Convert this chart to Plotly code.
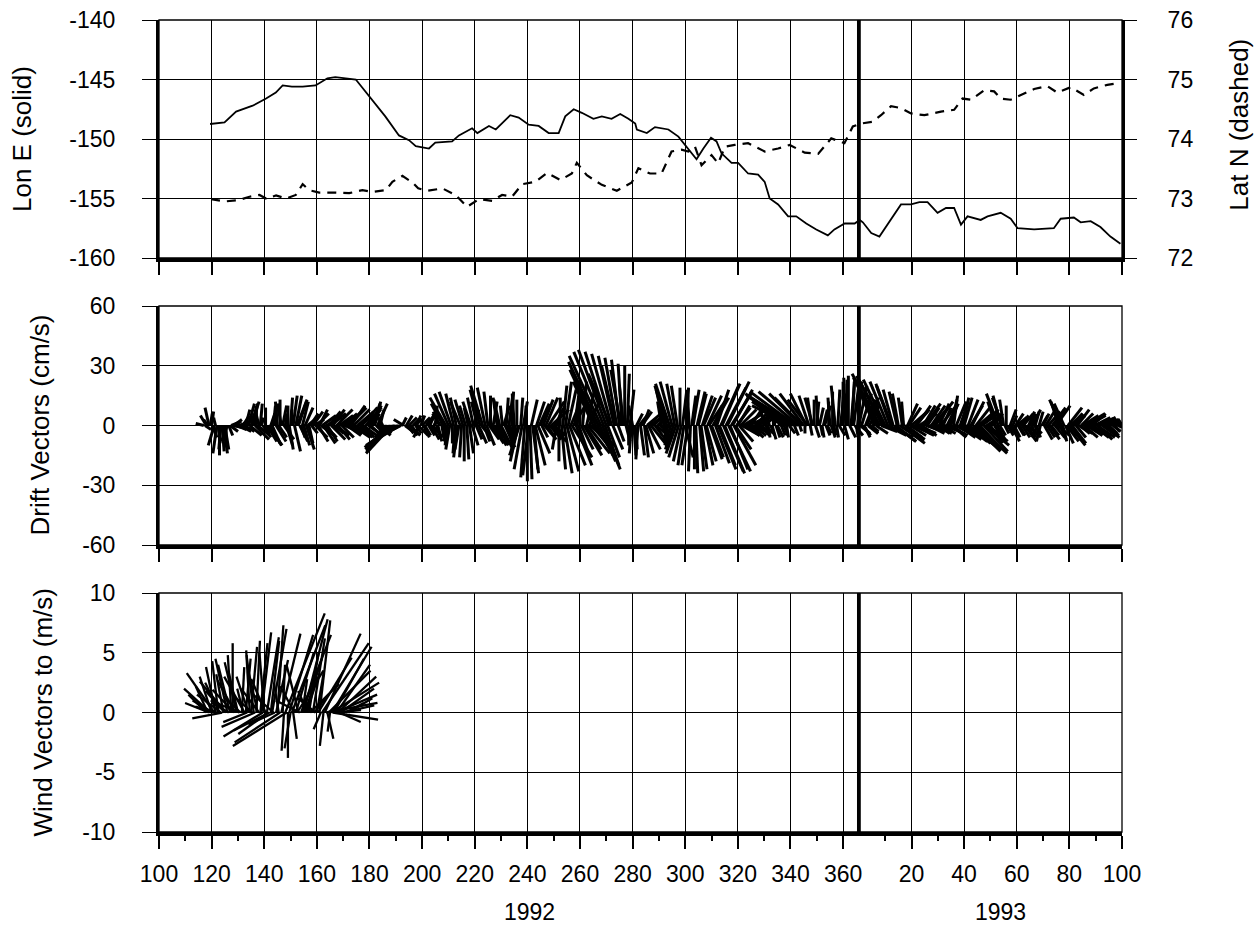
import plotly.graph_objects as go

# ---------------- data ----------------
# Top panel: longitude (solid, left axis) and latitude (dashed, right axis)
lon_day = [119.4, 124.9, 129.3, 135.6, 140.7, 144.4, 147.0, 150.5, 154.6, 159.5,
           164.0, 167.0, 174.8, 179.9, 186.0, 191.2, 195.0, 197.6, 202.6, 205.0,
           211.4, 214.0, 219.0, 221.0, 225.4, 228.0, 233.5, 236.7, 240.5, 244.3,
           248.1, 251.9, 254.4, 257.6, 260.7, 265.1, 268.3, 272.0, 275.3, 278.4,
           281.0, 281.6, 285.4, 288.5, 293.6, 297.4, 301.2, 304.3, 306.9, 309.8,
           311.9, 313.8, 317.6, 320.1, 323.9, 327.7, 330.2, 332.1, 335.3, 339.1,
           342.2, 346.0, 349.8, 354.2, 356.7, 360.6, 364.4, 366.3, 367.5, 370.7,
           373.8, 378.2, 382.0, 385.8, 389.0, 392.1, 395.9, 399.1, 402.2, 404.8,
           407.3, 412.3, 414.9, 419.9, 423.7, 426.3, 432.6, 440.1, 442.7, 447.7,
           450.3, 454.1, 457.8, 461.6, 465.4]
lon_e = [-148.74, -148.6, -147.7, -147.2, -146.6, -146.1, -145.5, -145.6, -145.6, -145.5,
         -144.9, -144.8, -145.0, -146.4, -148.1, -149.7, -150.1, -150.6, -150.8, -150.3,
         -150.2, -149.7, -149.1, -149.5, -148.9, -149.2, -148.0, -148.2, -148.8, -148.9,
         -149.5, -149.5, -148.1, -147.5, -147.8, -148.3, -148.1, -148.3, -147.9, -148.3,
         -148.7, -149.2, -149.5, -149.0, -149.2, -149.8, -150.8, -151.7, -150.8, -149.9,
         -150.2, -151.2, -152.0, -152.0, -152.9, -153.0, -153.6, -155.0, -155.5, -156.5,
         -156.5, -157.1, -157.6, -158.1, -157.6, -157.1, -157.1, -156.8, -157.0, -157.9,
         -158.2, -156.7, -155.5, -155.5, -155.3, -155.3, -156.2, -155.8, -155.8, -157.2,
         -156.5, -156.8, -156.5, -156.2, -156.7, -157.5, -157.6, -157.5, -156.7, -156.6,
         -157.0, -156.9, -157.4, -158.2, -158.8]

lat_day = [119.8, 124.9, 130.0, 134.4, 138.2, 140.7, 144.5, 148.3, 152.0, 154.6,
           157.1, 160.9, 166.0, 172.3, 177.3, 181.1, 186.2, 188.7, 192.5, 196.3,
           198.5, 202.0, 207.7, 212.7, 217.1, 221.6, 226.6, 230.4, 234.2, 238.0,
           243.0, 247.5, 252.5, 256.9, 258.8, 262.6, 268.3, 274.0, 279.7, 282.2,
           286.6, 291.0, 294.8, 298.6, 301.2, 303.7, 306.2, 310.0, 312.5, 315.1,
           318.8, 323.9, 330.2, 335.3, 339.7, 345.4, 350.5, 355.5, 360.5, 363.7,
           366.8, 371.3, 374.4, 378.2, 382.0, 385.8, 390.9, 397.2, 402.2, 405.4,
           408.6, 413.6, 417.4, 419.9, 423.7, 427.5, 432.6, 437.6, 441.4, 446.5,
           451.5, 455.3, 460.4, 464.8]
lat_n = [72.99, 72.95, 72.97, 73.03, 73.06, 73.00, 73.05, 73.00, 73.06, 73.24,
         73.14, 73.10, 73.10, 73.09, 73.14, 73.11, 73.14, 73.28, 73.38, 73.27,
         73.17, 73.13, 73.17, 73.06, 72.86, 72.99, 72.96, 73.06, 73.03, 73.24,
         73.28, 73.43, 73.31, 73.42, 73.60, 73.39, 73.23, 73.13, 73.27, 73.51,
         73.42, 73.42, 73.79, 73.82, 73.79, 73.87, 73.56, 73.73, 73.59, 73.87,
         73.90, 73.93, 73.79, 73.84, 73.90, 73.77, 73.75, 74.01, 73.93, 74.21,
         74.26, 74.29, 74.40, 74.55, 74.52, 74.43, 74.40, 74.46, 74.49, 74.68,
         74.66, 74.82, 74.80, 74.68, 74.66, 74.74, 74.84, 74.89, 74.78, 74.87,
         74.74, 74.85, 74.91, 74.94]

# Middle panel: drift vectors (cm/s), readings at whole days 117..465 ...
drift_day = list(range(117, 466))
drift_u = [
    -4, -3, -2, 1, -3, -2, 0, 1, 2, -3,        # 117-126
    4, 5, 6, 5, 4, 3, 2, 3, 4, 2,              # 127-136
    0, -2, 1, 3, 5, 6, 4, 1, -1, 0,            # 137-146
    2, 1, 0, 1, 2, 3, 4, 2, 3, 4,              # 147-156
    2, 3, 5, 6, 4, 7, 6, 5, 8, 6,              # 157-166
    7, 6, 8, 7, 8, 9, 7, 8, 6, 9,              # 167-176
    8, 5, 7, 6, 4, 3, 5, 2, -2, -6,            # 177-186
    -9, -12, -14, -15, -13, -8, -5, 3, 4, 3,   # 187-196
    4, 2, -3, 4, 3, 5, 2, 5, 1, 2,             # 197-206
    -4, -6, -8, -7, -6, -4, -3, -2, -1, 0,     # 207-216
    1, 2, 3, 2, -3, -5, -6, -4, -2, 0,         # 217-226
    2, 4, 5, 6, 3, 1, 2, 1, -1, 0,             # 227-236
    -5, -4, -2, 0, 1, 3, 5, 6, 4, 5,           # 237-246
    6, 8, 9, 6, -2, 0, 2, 4, 6, 8,             # 247-256
    10, 2, 1, 0, 2, 8, 11, 12, -10, -13,       # 257-266
    -15, -16, -15, -14, -12, -10, -8, -6, -4, -2,  # 267-276
    0, 1, 2, -2, 1, -1, 2, 3, 4, 6,            # 277-286
    8, 5, 7, 3, -2, -4, -6, -7, -6, -4,        # 287-296
    -3, 0, 2, 4, -3, -1, 3, 1, 4, 3,           # 297-306
    6, 5, 8, 6, 4, 6, 8, 9, 10, 11,            # 307-316
    9, 10, 8, 6, 8, 10, 7, 9, 6, 8,            # 317-326
    5, 7, 4, 6, -3, -2, 2, 0, 3, 4,            # 327-336
    -6, -12, -18, -22, -24, -23, -20, -16, -12, -8,  # 337-346
    -5, -2, 0, 1, 2, 1, 3, 2, -1, 0,           # 347-356
    -2, 1, 2, 0, -1, 0, 2, 3, 1, 4,            # 357-366
    5, 3, 6, 5, 3, -8, -12, -14, -13, -11,     # 367-376
    -9, -7, -5, 10, -3, 12, -1, 8, 6, 8,       # 377-386
    10, 7, 9, 5, 8, 6, 10, 7, 9, 6,            # 387-396
    8, 4, 7, 5, 3, 2, 5, 8, 10, 4,             # 397-406
    12, 14, 6, 13, 15, 11, 8, 12, 10, 6,       # 407-416
    4, -4, -6, -4, -2, 0, 2, 4, 3, 5,          # 417-426
    3, 4, 6, 5, 3, 4, 2, -3, -2, 3,            # 427-436
    5, 6, 4, 6, 7, -4, -6, -5, 6, 8,           # 437-446
    7, 4, 6, 5, 8, 10, 9, 6, 8, 10,            # 447-456
    7, 9, 8, 6, 5, 4, 3, 3, 2]                 # 457-465
drift_v = [
    1, 5, 9, 7, -10, -14, -15, -13, -12, -8,
    -3, -1, 0, 1, 2, 5, 8, 11, 12, 11,
    10, 8, 4, -4, -8, -10, -9, 9, 12, 13,
    10, 6, 10, 14, 15, 15, 12, -6, -10, -12,
    -9, -4, 3, 6, 8, 5, -6, -8, 6, 8,
    -5, -7, 4, 6, 7, 9, 10, 8, -5, 6,
    9, -6, 8, 10, 11, 12, 11, 8, 4, -8,
    -11, -13, -12, -10, -8, -4, 3, 5, 4, -5,
    3, 5, -6, 4, -5, 6, 5, -6, 10, -8,
    6, 11, 14, 16, 17, 16, 14, -12, -16, -18,
    -17, -14, -10, 8, 12, 18, 20, 19, 17, 15,
    12, -6, -10, -12, 10, 14, 16, 17, 16, 13,
    -15, -22, -26, -28, -27, -24, -20, -14, 9, 13,
    14, 12, 8, -5, -12, -18, -22, -24, -23, -20,
    -16, 15, 20, 23, 22, -12, -14, -10, 22, 28,
    32, 35, 37, 38, 37, 36, 35, 34, 33, 31,
    30, 26, 18, 10, -12, -17, -15, 8, -14, -12,
    -10, 5, -6, 4, 12, 18, 20, 21, 22, 21,
    20, 19, 17, -16, -20, -23, 18, -24, 16, -22,
    14, -18, 12, -16, 10, 18, -20, 21, -24, 22,
    -22, 18, -12, 10, 8, 6, -5, 4, 9, -4,
    3, 6, -5, 5, 6, 8, -7, 7, -6, 3,
    4, 8, 12, 15, 16, 17, 17, 16, 16, 16,
    15, 14, 13, 12, 9, -6, 10, -4, 14, 17,
    20, 18, 16, 22, 24, 25, 24, 23, -6, 20,
    16, -6, 14, 10, -4, 18, 24, 26, 25, 23,
    22, 20, 18, -8, 16, -9, 12, -6, 9, 7,
    -5, 10, 6, -4, 11, 9, -3, 8, 12, -4,
    10, 9, -3, 11, 13, 15, 12, -5, -7, 14,
    -9, -11, 12, -13, -14, -12, 8, -10, -8, -9,
    6, 12, 16, 15, 13, 10, -4, -8, -6, 4,
    -5, -6, -8, -4, 6, 8, 7, -6, -8, 6,
    8, 7, -5, 9, 10, 12, 13, 11, -8, -10,
    -9, 6, 8, -4, 5, 6, 5, -5, -6, 4,
    -7, 3, -6, 2, -5, 2, -3, 1, 0]

# ... and the opposite-phase readings at half days 117.5..465.5
drift_day_b = [d + 0.5 for d in drift_day]
drift_u_b = [
    3, -2, 1, 2, -1, 1, -1, 2, 0, 2,           # 117.5-126.5
    5, 4, 5, 6, 3, 5, 4, 6, 2, 7,
    6, 1, 4, 0, 7, 2, 1, 5, 4, -2,
    5, 3, 2, 0, 3, 5, 4, 3, 4, 5,
    4, 5, 6, 5, 7, 6, 8, 6, 7, 5,
    8, 7, 6, 9, 7, 8, 9, 7, 8, 6,
    7, 8, 6, 5, 3, 4, 6, 5, -4, -10,
    -11, -13, -15, -14, -10, 2, 4, 3, 5, 4,
    3, 5, 2, 3, 4, 3, 4, 3, 2, -3,
    1, 0, -1, -2, 0, -1, -2, -5, -4, -3,
    -2, -4, -3, 3, 4, 5, 3, 4, 5, 6,
    6, -2, -3, -1, 5, 2, 1, 0, -2, -4,
    1, 2, 0, -3, 3, 2, 4, 5, 3, 6,
    4, 6, 7, 5, 2, 0, 2, 3, 4, 5,
    6, 8, 5, 6, 9, 4, 5, 10, 9, 8,
    8, 9, 7, 6, -11, 5, -7, 3, -5, -2,
    2, 0, -1, 1, 3, 4, 5, 2, 7, 6,
    7, 6, 5, 4, 2, 0, -2, -3, -4, -5,
    -5, -4, -3, 1, -1, 2, 0, 4, 2, 5,
    4, 7, 6, 8, 7, 9, 9, 10, 10, 11,
    10, 11, 7, 7, 9, 8, 8, 7, 7, 6,
    6, 5, 5, 4, 1, 2, 0, 2, 3, 2,
    2, 1, 3, -20, 2, -22, 1, -14, 0, -10,
    1, -4, 2, -1, 1, 2, 2, 0, 2, 1,
    1, 3, 1, 2, 0, 3, 1, 4, 2, 5,
    4, 5, 5, 4, 2, 6, -10, 8, -12, 10,
    12, -8, 11, -4, 12, -2, 10, 5, 8, 9,
    7, 9, 8, 6, 9, 8, 7, 9, 8, 5,
    7, 8, 5, 9, 7, 8, 9, 4, 3, 11,
    5, 6, 13, 7, 8, 9, 12, 8, 7, 5,
    5, 4, 3, -5, 2, 3, 3, 2, 4, 3,
    4, 5, 5, 3, 3, 4, 2, 2, 3, 4,
    4, 5, 6, 5, 6, 3, 2, 4, 7, 6,
    6, 5, 7, 6, 7, 8, 9, 7, 8, 9,
    8, 7, 6, 5, 5, 4, 3, 2, 1]
drift_v_b = [
    -2, 3, 6, -6, 4, -9, -12, -14, -10, -5,
    2, 3, -2, -3, 3, -3, 6, -5, 9, -7,
    -5, 11, -6, 9, -10, 6, 10, -8, -6, 11,
    -7, -10, -12, 8, -13, 13, -8, 12, 9, 4,
    6, 7, -6, -8, -5, -9, 4, 7, -7, -4,
    8, 5, -6, -4, -5, -3, -6, -4, 7, -6,
    -5, 9, -4, -5, 6, -4, -5, -4, -6, -12,
    -13, -14, -11, -9, -6, 4, -3, -4, -5, 4,
    -4, -5, 5, -6, 5, -5, -7, 6, -6, 7,
    -6, -8, -10, -12, -9, -14, -16, 12, 13, 10,
    9, 12, 14, -7, -9, -6, -8, -10, -7, -9,
    -10, 14, 13, 10, -11, -8, -10, -12, -14, -18,
    14, 12, 10, -25, 13, -22, 12, 11, -6, -7,
    -6, -7, -8, 10, 8, 14, 20, 22, 18, 12,
    10, -20, -14, -12, -15, 18, 12, -12, -13, -15,
    -18, -22, -20, -16, 26, -12, 30, -8, 28, 20,
    -8, -10, -14, -15, 6, 5, 7, -16, 6, 4,
    6, -8, 4, -3, -5, -6, -8, -10, -12, -14,
    -16, -18, -20, 19, 18, 15, -22, 17, -23, 15,
    -20, 15, -17, 14, -19, -22, 20, -23, 19, -23,
    16, -20, 9, -8, -5, -4, 7, -6, -5, 6,
    -4, -3, 6, -4, -6, -5, 6, -6, 5, -5,
    -5, -6, -4, 10, -5, 13, -3, 14, -4, 13,
    -5, 14, -6, 15, -5, 8, -5, 12, -6, -5,
    -6, -5, 21, -7, 23, -6, 22, -5, 22, -4,
    -5, 13, -4, -3, 12, -4, 20, -3, 22, -5,
    -6, 21, -8, 17, -8, 14, -7, 11, -5, -4,
    8, -4, -5, 10, -3, -4, 10, -4, -3, 11,
    -4, -3, 10, -5, -6, -4, -6, 12, 14, -8,
    13, 10, -12, 9, 7, 6, -13, 5, 6, 5,
    -8, -7, -5, 14, -4, -5, 8, 5, 6, -5,
    5, 6, -6, 7, -5, -4, -6, 7, 5, -7,
    -6, -7, 8, -6, -5, -7, -8, -9, 9, 6,
    5, -6, -4, 6, -6, -5, -4, 6, 4, -6,
    4, -5, 3, -4, 3, -3, 2, -1, 0]

# Bottom panel: wind vectors (m/s)
wind_day = [118, 119, 120, 121, 122, 122.5, 123, 124, 125, 126,
            127, 128, 129, 130, 131, 132, 133, 133.5, 134, 135,
            136, 136.5, 137, 138, 139, 139.5, 140, 141, 141.5, 142,
            143, 144, 145, 146, 147, 147.5, 148, 148.5, 149, 149.5,
            150, 150.5, 151, 152, 153, 154, 155, 156, 157, 158,
            159, 160, 161, 162, 162.5, 163, 163.5, 164, 164.5, 165,
            165.5, 165.8, 166, 166.5, 167, 168, 169, 170, 171, 172]
wind_u = [-1.5, -2.0, -1.0, -2.3, -1.8, -0.5, -1.2, -2.5, -1.6, -1.0,
          -1.0, 0.0, -1.5, -0.8, -1.3, -0.5, 0.4, -2.0, -1.0, 0.5,
          -0.6, -2.8, 0.3, -1.5, 0.8, -3.3, -0.4, 1.0, -2.5, -3.0,
          1.2, -2.2, 0.5, -3.8, 0.2, -0.2, 3.3, -4.5, 0.0, 2.0,
          -0.5, 2.8, 0.3, 1.5, -1.0, 2.5, 2.0, 1.0, 0.8, -0.5,
          1.2, 0.6, 0.9, 3.9, -0.3, 3.0, 4.3, 0.5, 3.5, -0.2,
          4.0, 3.3, 3.8, 2.5, 3.5, 3.2, 2.8, 2.6, 1.5, 2.0]
wind_v = [1.5, 0.8, 3.0, 3.3, 0.5, 4.3, 2.5, -0.5, 1.8, 4.5,
          4.0, 5.8, 2.7, 3.5, 1.2, 2.0, 4.5, -0.8, 3.0, 5.5,
          4.8, -1.2, 6.0, 2.0, 6.7, -2.0, 5.0, 6.3, -1.8, -1.5,
          7.0, -1.0, 7.3, -2.5, 4.0, -3.2, 8.3, -2.8, -3.8, 6.5,
          -3.0, 7.3, -2.2, 5.0, 4.0, 6.5, 7.8, 3.0, 5.0, 0.5,
          1.5, 3.5, 7.7, 5.8, -2.8, 6.6, 0.8, -2.2, 3.5, -1.6,
          2.5, 5.5, -0.6, 4.5, 1.5, 3.0, 2.0, 0.6, 0.8, 1.2]
# additional wind readings in between
wind_day_b = [118.5, 119.5, 120.5, 121.5, 123.5, 124.5, 125.5, 126.5, 127.5, 128.5,
              129.5, 130.5, 131.5, 132.5, 134.5, 135.5, 137.5, 138.5, 140.5, 142.5,
              143.5, 144.5, 145.5, 146.5, 151.5, 152.5, 153.5, 154.5, 155.5, 156.5,
              157.5, 158.5, 159.5, 160.5, 161.5, 166.8, 167.5, 168.5]
wind_u_b = [-1.0, -2.2, -1.7, -0.8, -2.0, -0.6, -2.2, -1.4, -0.3, -1.8,
            -1.0, -2.4, 0.2, -1.7, -0.3, -1.6, -0.8, 0.6, -1.2, 0.7,
            -1.8, 1.0, -0.4, 1.6, -1.2, 2.2, -2.0, 0.4, 1.4, -0.8,
            2.4, 1.0, -1.5, 2.8, -0.6, 2.2, 2.8, 1.8]
wind_v_b = [2.2, 2.0, 1.0, 3.8, 1.5, 3.2, 2.6, 0.8, 4.8, 1.9,
            4.2, 1.0, 3.8, 3.0, 5.2, 1.4, 3.6, 5.8, 2.8, 6.0,
            1.6, 4.4, 2.5, 6.6, 2.2, 3.5, 1.0, 2.8, 4.5, 1.8,
            2.4, 6.2, 1.2, 4.6, -1.4, 0.2, 4.0, -0.8]

# Axis ticks (day of year; 1992 is a leap year, so 1993 day N sits at 366 + N)
x_tickvals = [100, 120, 140, 160, 180, 200, 220, 240, 260, 280, 300, 320, 340, 360,
              386, 406, 426, 446, 466]
x_ticktext = ["100", "120", "140", "160", "180", "200", "220", "240", "260", "280",
              "300", "320", "340", "360", "20", "40", "60", "80", "100"]
x_minor = [110, 130, 150, 170, 190, 210, 230, 250, 270, 290, 310, 330, 350,
           376, 396, 416, 436, 456]
year_boundary = 366
year_labels = ["1992", "1993"]
year_label_day = [241, 420]

lon_ticks = [-160, -155, -150, -145, -140]
lat_ticks = [72, 73, 74, 75, 76]
drift_ticks = [-60, -30, 0, 30, 60]
wind_ticks = [-10, -5, 0, 5, 10]

# ---------------- layout geometry ----------------
W, H = 1254, 926
ML, MR, MT, MB = 159, 132, 20, 94
XR = [100, 466]
dom_top = [0.7069, 1.0]
dom_mid = [0.35345, 0.64778]
dom_bot = [0.0, 0.29433]
plot_w = W - ML - MR
plot_h = H - MT - MB
FONT = "Liberation Sans, Arial, Helvetica, sans-serif"


def stick_xy(days, u, v, dom, yrange):
    """Stick plot: base at (day, 0), tip at (day + u*k, v), isotropic in pixels."""
    px_per_day = plot_w / (XR[1] - XR[0])
    px_per_unit = (dom[1] - dom[0]) * plot_h / (yrange[1] - yrange[0])
    k = px_per_unit / px_per_day
    xs, ys = [], []
    for d, uu, vv in zip(days, u, v):
        xs += [d, d + uu * k, None]
        ys += [0, vv, None]
    return xs, ys


assert len(drift_day) == len(drift_u) == len(drift_v)
assert len(drift_day_b) == len(drift_u_b) == len(drift_v_b)
assert len(wind_day) == len(wind_u) == len(wind_v)
assert len(wind_day_b) == len(wind_u_b) == len(wind_v_b)

dxa, dya = stick_xy(drift_day, drift_u, drift_v, dom_mid, [-60, 60])
dxb, dyb = stick_xy(drift_day_b, drift_u_b, drift_v_b, dom_mid, [-60, 60])
wxa, wya = stick_xy(wind_day, wind_u, wind_v, dom_bot, [-10, 10])
wxb, wyb = stick_xy(wind_day_b, wind_u_b, wind_v_b, dom_bot, [-10, 10])

fig = go.Figure()
fig.add_trace(go.Scatter(x=lon_day, y=lon_e, mode="lines",
                         line=dict(color="black", width=1.8),
                         xaxis="x", yaxis="y", showlegend=False, hoverinfo="skip"))
fig.add_trace(go.Scatter(x=lat_day, y=lat_n, mode="lines",
                         line=dict(color="black", width=2.2, dash="9px,7px"),
                         xaxis="x", yaxis="y2", showlegend=False, hoverinfo="skip"))
for sx, sy in [(dxa, dya), (dxb, dyb)]:
    fig.add_trace(go.Scatter(x=sx, y=sy, mode="lines", connectgaps=False,
                             line=dict(color="black", width=3.0),
                             xaxis="x2", yaxis="y3", showlegend=False, hoverinfo="skip"))
for sx, sy in [(wxa, wya), (wxb, wyb)]:
    fig.add_trace(go.Scatter(x=sx, y=sy, mode="lines", connectgaps=False,
                             line=dict(color="black", width=2.3),
                             xaxis="x3", yaxis="y4", showlegend=False, hoverinfo="skip"))

tickfont = dict(family=FONT, size=23, color="black")

xcommon = dict(range=XR, tickmode="array", tickvals=x_tickvals, ticktext=x_ticktext,
               showgrid=True, gridcolor="black", gridwidth=1.3,
               ticks="outside", ticklen=13, tickwidth=1.5, tickcolor="black",
               showline=True, linecolor="black", linewidth=4, mirror=False,
               zeroline=False, tickfont=tickfont, fixedrange=True)

ycommon = dict(showgrid=True, gridcolor="black", gridwidth=1.3,
               ticks="outside", ticklen=14, tickwidth=1.3, tickcolor="black",
               showline=True, linecolor="black", linewidth=3, mirror=False,
               zeroline=False, tickfont=tickfont, ticklabelstandoff=22,
               tickmode="array", fixedrange=True)


def lbl(vals):
    return [str(v) for v in vals]


fig.update_layout(
    width=W, height=H,
    margin=dict(l=ML, r=MR, t=MT, b=MB, autoexpand=False),
    paper_bgcolor="white", plot_bgcolor="white",
    font=dict(family=FONT, color="black"),
    xaxis=dict(xcommon, anchor="y", domain=[0, 1], showticklabels=False),
    xaxis2=dict(xcommon, anchor="y3", domain=[0, 1], showticklabels=False),
    xaxis3=dict(xcommon, anchor="y4", domain=[0, 1], showticklabels=True,
                ticklabelstandoff=5,
                minor=dict(tickmode="array", tickvals=x_minor, ticks="outside",
                           ticklen=5, tickwidth=1.5, tickcolor="black", showgrid=False)),
    yaxis=dict(ycommon, domain=dom_top, anchor="x", range=[-160, -140],
               tickvals=lon_ticks, ticktext=lbl(lon_ticks)),
    yaxis2=dict(domain=dom_top, anchor="x", overlaying="y", side="right",
                range=[72, 76], tickmode="array", tickvals=lat_ticks,
                ticktext=lbl(lat_ticks), showgrid=False, zeroline=False,
                ticks="outside", ticklen=12, tickwidth=1.3, tickcolor="black",
                showline=True, linecolor="black", linewidth=3,
                tickfont=tickfont, ticklabelstandoff=26, fixedrange=True),
    yaxis3=dict(ycommon, domain=dom_mid, anchor="x2", range=[-60, 60],
                tickvals=drift_ticks, ticktext=lbl(drift_ticks)),
    yaxis4=dict(ycommon, domain=dom_bot, anchor="x3", range=[-10, 10],
                tickvals=wind_ticks, ticktext=lbl(wind_ticks)),
)

# panel borders (thin) and the year boundary (thick)
shapes = []
for xr, yr in [("x", "y"), ("x2", "y3"), ("x3", "y4")]:
    shapes.append(dict(type="rect", xref=f"{xr} domain", yref=f"{yr} domain",
                       x0=0, x1=1, y0=0, y1=1, line=dict(color="black", width=1.3),
                       fillcolor="rgba(0,0,0,0)", layer="above"))
    shapes.append(dict(type="line", xref=xr, yref=f"{yr} domain",
                       x0=year_boundary, x1=year_boundary, y0=0, y1=1,
                       line=dict(color="black", width=3.8), layer="above"))
fig.update_layout(shapes=shapes)

title_font = dict(family=FONT, size=26, color="black")
ann = [
    dict(text="Lon E (solid)", xref="paper", x=(22 - ML) / plot_w, yref="y domain", y=0.5,
         textangle=-90, showarrow=False, font=title_font, xanchor="center", yanchor="middle"),
    dict(text="Drift Vectors (cm/s)", xref="paper", x=(40 - ML) / plot_w, yref="y3 domain", y=0.5,
         textangle=-90, showarrow=False, font=title_font, xanchor="center", yanchor="middle"),
    dict(text="Wind Vectors to (m/s)", xref="paper", x=(43 - ML) / plot_w, yref="y4 domain", y=0.5,
         textangle=-90, showarrow=False, font=title_font, xanchor="center", yanchor="middle"),
    dict(text="Lat N (dashed)", xref="paper", x=(1239 - ML) / plot_w, yref="y domain", y=0.56,
         textangle=-90, showarrow=False, font=title_font, xanchor="center", yanchor="middle"),
]
for lab, d in zip(year_labels, year_label_day):
    ann.append(dict(text=lab, xref="x3", x=d, yref="paper", y=(H - MB - 912) / plot_h,
                    showarrow=False, font=tickfont, xanchor="center", yanchor="middle"))
fig.update_layout(annotations=ann)

fig.write_html("out.html", include_plotlyjs=True, config={"displayModeBar": False},
               post_script="document.body.style.margin='0px';"
                           "document.body.style.overflow='hidden';")
